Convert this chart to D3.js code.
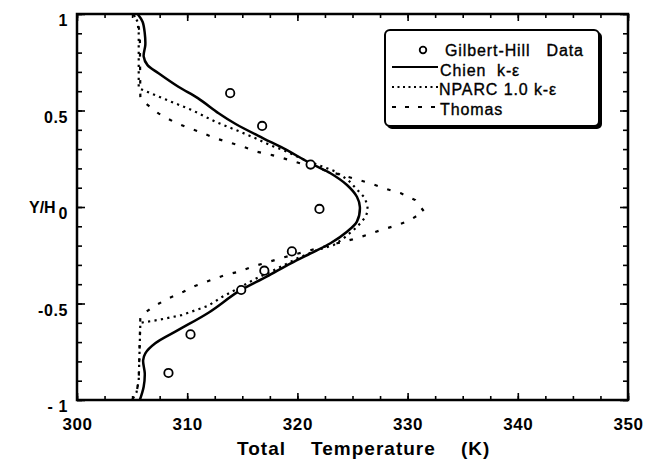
<!DOCTYPE html>
<html>
<head>
<meta charset="utf-8">
<script src="https://cdn.jsdelivr.net/npm/d3@7"></script>
<style>
  html, body { margin: 0; padding: 0; background: #fff; }
  svg { display: block; }
  text { font-family: "Liberation Sans", Arial, Helvetica, sans-serif; fill: #000; }
</style>
</head>
<body>
<svg id="chart" width="649" height="464"></svg>
<script>
// ---------- data ----------
const xMajorTicks = [300, 310, 320, 330, 340, 350];
const xTickLabels = ["300", "310", "320", "330", "340", "350"];
const yMajorTicks = [1, 0.5, 0, -0.5, -1];
const yTickLabels = ["1", "0.5", "0", "-0.5", "- 1"];

// Gilbert-Hill data: [Total temperature (K), Y/H]
const gilbertHill = [
  [313.9, 0.59], [316.8, 0.42], [321.2, 0.22], [322.0, -0.01],
  [319.5, -0.23], [317.0, -0.33], [314.9, -0.43], [310.3, -0.66], [308.3, -0.86]
];

// Chien k-e
const chien = [
  [305.5, 1.0], [305.95, 0.96], [306.15, 0.9], [306.2, 0.84], [306.05, 0.78],
  [306.4, 0.735], [307.4, 0.693], [309.2, 0.623], [311.0, 0.563], [312.85, 0.486],
  [314.4, 0.43], [316.9, 0.356], [318.75, 0.304], [321.2, 0.226], [323.0, 0.175],
  [324.5, 0.114], [325.4, 0.053], [325.67, 0.0], [325.4, -0.076], [324.5, -0.128],
  [323.0, -0.188], [321.2, -0.24], [319.4, -0.292], [317.2, -0.361], [314.6, -0.44],
  [312.0, -0.545], [309.2, -0.637], [307.1, -0.706], [306.2, -0.758], [306.0, -0.795],
  [306.15, -0.862], [306.05, -0.931], [305.7, -1.0]
];

// NPARC 1.0 k-e
const nparc = [
  [305.1, 1.0], [305.5, 0.96], [305.6, 0.9], [305.6, 0.615], [308.0, 0.558],
  [310.4, 0.503], [312.55, 0.442], [314.8, 0.39], [316.2, 0.356], [317.5, 0.321],
  [318.75, 0.295], [320.3, 0.252], [321.8, 0.22], [323.4, 0.185], [324.6, 0.14],
  [325.3, 0.097], [326.03, 0.053], [326.3, 0.019], [326.4, -0.016], [326.2, -0.05],
  [325.7, -0.085], [325.1, -0.119], [324.2, -0.162], [323.3, -0.197], [321.8, -0.223],
  [320.0, -0.266], [318.2, -0.318], [316.3, -0.369], [314.5, -0.425], [313.2, -0.465],
  [311.9, -0.512], [309.5, -0.56], [307.4, -0.585], [305.75, -0.6], [305.6, -0.9],
  [305.4, -0.96], [305.0, -1.0]
];

// Thomas
const thomas = [
  [305.1, 1.0], [305.5, 0.96], [305.7, 0.9], [305.75, 0.56], [306.03, 0.546],
  [307.39, 0.485], [308.76, 0.442], [309.97, 0.413], [311.33, 0.385], [312.55, 0.356],
  [313.9, 0.333], [315.1, 0.312], [316.3, 0.287], [317.7, 0.269], [319.06, 0.247],
  [320.27, 0.226], [322.8, 0.185], [325.4, 0.143], [326.8, 0.119], [328.15, 0.092],
  [329.4, 0.071], [330.7, 0.036], [331.5, -0.024], [330.1, -0.071], [328.9, -0.097],
  [327.6, -0.119], [326.3, -0.145], [325.0, -0.168], [323.6, -0.188], [321.0, -0.227],
  [318.45, -0.266], [317.2, -0.288], [315.9, -0.309], [314.7, -0.335], [313.45, -0.352],
  [312.1, -0.38], [310.7, -0.409], [309.66, -0.439], [308.3, -0.473], [306.94, -0.516],
  [305.75, -0.565], [305.6, -0.9], [305.4, -0.96], [305.0, -1.0]
];

const legendLabels = ["Gilbert-Hill   Data", "Chien  k-\u03B5", "NPARC 1.0 k-\u03B5", "Thomas"];

// ---------- layout ----------
const svg = d3.select("#chart");
const L = 77, R = 628, T = 14, B = 400;
const x = d3.scaleLinear().domain([300, 350]).range([L, R]);
const y = d3.scaleLinear().domain([-1, 1]).range([B, T]);

const xMinor = d3.range(0, 21).map(i => 300 + i * 2.5);
const yMinor = d3.range(-10, 11).map(i => i / 10);

function tickAxis(axisFn, scale, values, size, transform) {
  const g = svg.append("g").attr("transform", transform)
    .call(axisFn(scale).tickValues(values).tickSize(size).tickSizeOuter(0).tickFormat(""));
  g.select(".domain").remove();
  g.selectAll("line").attr("stroke", "#000").attr("stroke-width", 1.6);
  return g;
}
// minor + major ticks, all inward
tickAxis(d3.axisBottom, x, xMinor, -4, `translate(0,${B})`);
tickAxis(d3.axisBottom, x, xMajorTicks, -7, `translate(0,${B})`);
tickAxis(d3.axisTop, x, xMinor, -4, `translate(0,${T})`);
tickAxis(d3.axisTop, x, xMajorTicks, -7, `translate(0,${T})`);
tickAxis(d3.axisLeft, y, yMinor, -5, `translate(${L},0)`);
tickAxis(d3.axisLeft, y, yMajorTicks, -8, `translate(${L},0)`);
tickAxis(d3.axisRight, y, yMinor, -5, `translate(${R},0)`);
tickAxis(d3.axisRight, y, yMajorTicks, -8, `translate(${R},0)`);

// frame
svg.append("rect").attr("x", L).attr("y", T).attr("width", R - L).attr("height", B - T)
  .attr("fill", "none").attr("stroke", "#000").attr("stroke-width", 2.5);

// tick labels
svg.append("g").selectAll("text").data(xMajorTicks).join("text")
  .attr("x", d => x(d) + 0.5).attr("y", 430)
  .attr("text-anchor", "middle")
  .style("font-size", "17px").style("font-weight", "bold").style("letter-spacing", "0.6px")
  .text((d, i) => xTickLabels[i]);

svg.append("g").selectAll("text").data(yMajorTicks).join("text")
  .attr("x", 68).attr("y", d => y(d) + 12)
  .attr("text-anchor", "end")
  .style("font-size", "16px").style("font-weight", "bold").style("letter-spacing", "0.6px")
  .text((d, i) => yTickLabels[i]);

// axis titles
svg.append("text").attr("x", 29).attr("y", 213)
  .style("font-size", "16px").style("font-weight", "bold")
  .text("Y/H");

svg.append("text").attr("x", 237).attr("y", 455)
  .attr("xml:space", "preserve").style("white-space", "pre")
  .style("font-size", "19px").style("font-weight", "bold").style("letter-spacing", "1px")
  .text("Total    Temperature    (K)");

// ---------- curves ----------
const lineGen = d3.line().x(d => x(d[0])).y(d => y(d[1]));
const plot = svg.append("g");

plot.append("path").datum(thomas)
  .attr("d", lineGen.curve(d3.curveLinear))
  .attr("fill", "none").attr("stroke", "#000").attr("stroke-width", 2.2)
  .attr("stroke-dasharray", "3.5,10");

plot.append("path").datum(nparc)
  .attr("d", lineGen.curve(d3.curveLinear))
  .attr("fill", "none").attr("stroke", "#000").attr("stroke-width", 2.2)
  .attr("stroke-dasharray", "2.2,4.3");

plot.append("path").datum(chien)
  .attr("d", lineGen.curve(d3.curveCatmullRom.alpha(0.5)))
  .attr("fill", "none").attr("stroke", "#000").attr("stroke-width", 2.5);

plot.append("g").selectAll("circle").data(gilbertHill).join("circle")
  .attr("cx", d => x(d[0])).attr("cy", d => y(d[1])).attr("r", 4.2)
  .attr("fill", "#fff").attr("stroke", "#000").attr("stroke-width", 1.8);

// ---------- legend ----------
const lg = svg.append("g");
lg.append("rect").attr("x", 387).attr("y", 32).attr("width", 215).attr("height", 97).attr("rx", 5)
  .attr("fill", "#000");
lg.append("rect").attr("x", 385).attr("y", 30).attr("width", 214).attr("height", 96).attr("rx", 5)
  .attr("fill", "#fff").attr("stroke", "#000").attr("stroke-width", 2);

const rowY = [56, 75.5, 95, 114.5];
lg.append("circle").attr("cx", 423).attr("cy", 50).attr("r", 3.3)
  .attr("fill", "#fff").attr("stroke", "#000").attr("stroke-width", 1.8);
lg.append("line").attr("x1", 392).attr("x2", 438).attr("y1", 67).attr("y2", 67)
  .attr("stroke", "#000").attr("stroke-width", 2);
lg.append("line").attr("x1", 392).attr("x2", 438).attr("y1", 87).attr("y2", 87)
  .attr("stroke", "#000").attr("stroke-width", 1.8).attr("stroke-dasharray", "2,3.5");
lg.append("line").attr("x1", 392).attr("x2", 438).attr("y1", 107).attr("y2", 107)
  .attr("stroke", "#000").attr("stroke-width", 1.8).attr("stroke-dasharray", "4,9");

const textX = [445, 440, 439, 440];
lg.selectAll("text.leg").data(legendLabels).join("text").attr("class", "leg")
  .attr("x", (d, i) => textX[i]).attr("y", (d, i) => rowY[i])
  .attr("xml:space", "preserve").style("white-space", "pre")
  .style("font-size", "16px").style("letter-spacing", "0.9px")
  .attr("stroke", "#000").attr("stroke-width", 0.35)
  .text(d => d);
</script>
</body>
</html>
